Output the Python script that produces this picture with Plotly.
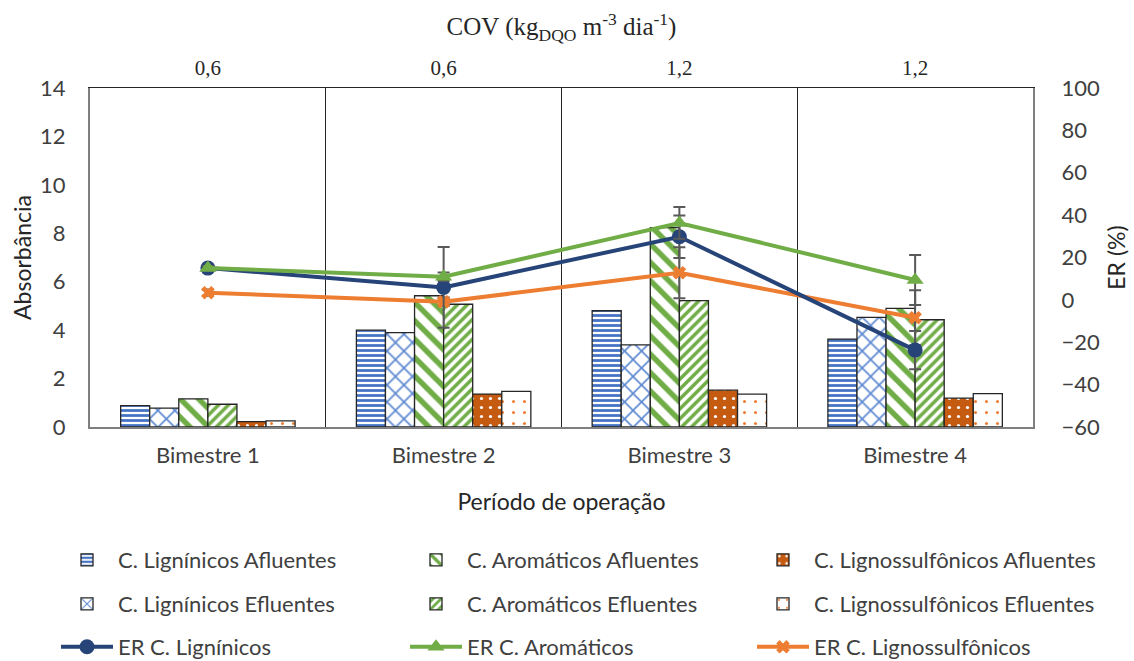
import plotly.graph_objects as go

categories = ["Bimestre 1", "Bimestre 2", "Bimestre 3", "Bimestre 4"]
cov_labels = ["0,6", "0,6", "1,2", "1,2"]

lig_afl = [0.88, 4.00, 4.80, 3.63]
lig_efl = [0.78, 3.90, 3.39, 4.53]
aro_afl = [1.16, 5.42, 8.23, 4.90]
aro_efl = [0.94, 5.07, 5.22, 4.43]
ls_afl = [0.22, 1.36, 1.52, 1.19]
ls_efl = [0.25, 1.47, 1.36, 1.38]

er_lig = [15.0, 5.9, 29.8, -23.7]
er_lig_err = [1.0, 19.0, 10.0, 9.0]
er_aro = [15.0, 10.9, 36.3, 9.4]
er_aro_err = [1.0, 2.0, 7.5, 11.8]
er_ls = [3.4, -0.9, 12.8, -8.4]
er_ls_err = [1.5, 2.0, 12.0, 13.0]

FONT = "Lato"
SERIF = "Liberation Serif"
OUTLINE = dict(color="#262626", width=1.3)

W, H = 1134, 661
ML, MR, MT, MB = 90, 101, 88, 234
COLS = [56, 405, 752]
ROWS = [560, 604, 647]

fig = go.Figure()

bars = [
    ("C. Lignínicos Afluentes", lig_afl, dict(shape="-", fgcolor="#4472C4", bgcolor="white", size=5, solidity=0.55), (0, 0)),
    ("C. Lignínicos Efluentes", lig_efl, dict(shape="x", fgcolor="#5B87D0", bgcolor="white", size=12, solidity=0.25), (1, 0)),
    ("C. Aromáticos Afluentes", aro_afl, dict(shape="\\", fgcolor="#70AD47", bgcolor="white", size=13, solidity=0.42), (0, 1)),
    ("C. Aromáticos Efluentes", aro_efl, dict(shape="/", fgcolor="#70AD47", bgcolor="white", size=7, solidity=0.5), (1, 1)),
    ("C. Lignossulfônicos Afluentes", ls_afl, dict(shape=".", fgcolor="white", bgcolor="#C55A11", size=9, solidity=0.1), (0, 2)),
    ("C. Lignossulfônicos Efluentes", ls_efl, dict(shape=".", fgcolor="#ED7D31", bgcolor="white", size=11, solidity=0.06), (1, 2)),
]
lines = [
    ("ER C. Lignossulfônicos", er_ls, er_ls_err, "#ED7D31", "x", 12, (2, 2)),
    ("ER C. Lignínicos", er_lig, er_lig_err, "#264478", "circle", 15, (2, 0)),
    ("ER C. Aromáticos", er_aro, er_aro_err, "#70AD47", "triangle-up", 15, (2, 1)),
]

legend_layouts = {}
leg_idx = [0]


def new_legend(pos):
    leg_idx[0] += 1
    key = "legend" if leg_idx[0] == 1 else f"legend{leg_idx[0]}"
    r, c = pos
    legend_layouts[key] = dict(
        orientation="h", xref="container", yref="container",
        x=COLS[c] / W, xanchor="left", y=1 - ROWS[r] / H, yanchor="middle",
        itemwidth=52, font=dict(family=FONT, size=22, color="#404040"),
        bgcolor="rgba(0,0,0,0)", borderwidth=0,
    )
    return key


for name, vals, pat, pos in bars:
    pat = dict(pat, fgopacity=1)
    fig.add_trace(go.Bar(
        x=categories, y=vals, name=name,
        marker=dict(color="white", pattern=pat, line=OUTLINE),
        legend=new_legend(pos),
    ))

for name, vals, errs, col, sym, size, pos in lines:
    fig.add_trace(go.Scatter(
        x=categories, y=vals, name=name, yaxis="y2", mode="lines+markers",
        line=dict(color=col, width=4),
        marker=dict(symbol=sym, size=size, color=col),
        error_y=dict(type="data", array=errs, visible=True, color="#595959", thickness=2, width=6),
        legend=new_legend(pos),
    ))

# invisible trace to activate the top COV axis
fig.add_trace(go.Scatter(x=[0, 3], y=[None, None], xaxis="x2", showlegend=False, hoverinfo="skip"))

tick_font = dict(family=FONT, size=22, color="#404040")
title_font = dict(family=FONT, size=23, color="#262626")

fig.update_layout(
    width=W, height=H,
    margin=dict(l=ML, r=MR, t=MT, b=MB, autoexpand=False),
    paper_bgcolor="white", plot_bgcolor="white",
    barmode="group", bargap=0.26, bargroupgap=0,
    font=dict(family=FONT, size=22, color="#404040"),
    xaxis=dict(
        type="category", range=[-0.5, 3.5], tickson="boundaries",
        showgrid=True, gridcolor="#262626", gridwidth=1,
        showline=True, linecolor="#7F7F7F", linewidth=2,
        ticks="", tickfont=tick_font, ticklabelstandoff=8,
        title=dict(text="Período de operação", font=title_font, standoff=26),
    ),
    xaxis2=dict(
        overlaying="x", side="top", range=[-0.5, 3.5],
        tickmode="array", tickvals=[0, 1, 2, 3], ticktext=cov_labels,
        showgrid=False, zeroline=False, showline=True, linecolor="#262626", linewidth=1,
        ticks="", tickfont=dict(family=SERIF, size=21, color="#262626"), ticklabelstandoff=4,
        title=dict(text="COV (kg<sub>DQO</sub> m<sup>-3</sup> dia<sup>-1</sup>)",
                   font=dict(family=SERIF, size=25, color="#262626"), standoff=12),
    ),
    yaxis=dict(
        range=[0, 14], dtick=2, showgrid=False, zeroline=False,
        showline=True, linecolor="#7F7F7F", linewidth=2,
        ticks="", tickfont=tick_font, ticklabelstandoff=18,
        title=dict(text="Absorbância", font=title_font, standoff=2),
    ),
    yaxis2=dict(
        overlaying="y", side="right", range=[-60, 100], dtick=20,
        showgrid=False, zeroline=False, showline=True, linecolor="#7F7F7F", linewidth=2,
        ticks="", tickfont=tick_font, ticklabelstandoff=22,
        title=dict(text="ER (%)", font=title_font, standoff=10),
    ),
    **legend_layouts,
)

fig.write_html("out.html")
